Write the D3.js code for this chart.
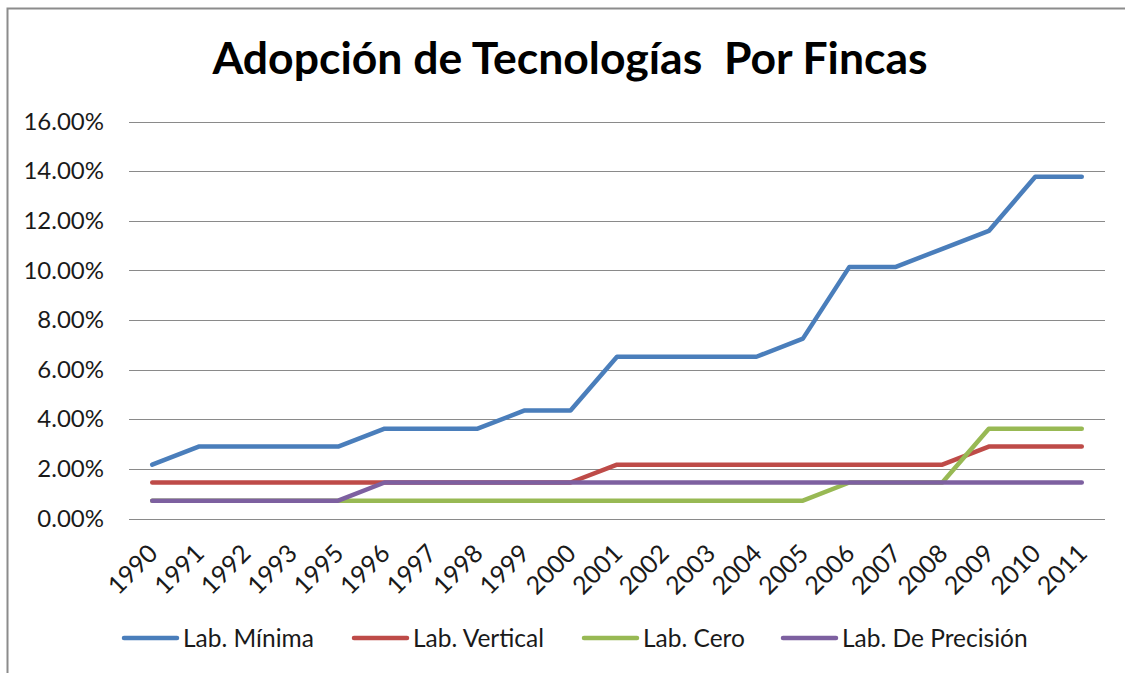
<html>
    <head>
        <meta charset="utf-8">
        <style>
            body { margin: 0; background: #fff; }
            svg { display: block; font-family: Lato, 'Open Sans', sans-serif; }
        </style>
    </head>
    <body>
        <svg width="1125" height="673"></svg>
        <script src="https://cdn.jsdelivr.net/npm/d3@7/dist/d3.min.js"></script>
        <script>
            const years = ['1990', '1991', '1992', '1993', '1995', '1996', '1997', '1998', '1999', '2000',
                           '2001', '2002', '2003', '2004', '2005', '2006', '2007', '2008', '2009', '2010', '2011'];
            const labMinima = [2.17, 2.90, 2.90, 2.90, 2.90, 3.62, 3.62, 3.62, 4.35, 4.35,
                               6.52, 6.52, 6.52, 6.52, 7.25, 10.14, 10.14, 10.87, 11.59, 13.77, 13.77];
            const labVertical = [1.45, 1.45, 1.45, 1.45, 1.45, 1.45, 1.45, 1.45, 1.45, 1.45,
                                 2.17, 2.17, 2.17, 2.17, 2.17, 2.17, 2.17, 2.17, 2.90, 2.90, 2.90];
            const labCero = [0.72, 0.72, 0.72, 0.72, 0.72, 0.72, 0.72, 0.72, 0.72, 0.72,
                             0.72, 0.72, 0.72, 0.72, 0.72, 1.45, 1.45, 1.45, 3.62, 3.62, 3.62];
            const labPrecision = [0.72, 0.72, 0.72, 0.72, 0.72, 1.45, 1.45, 1.45, 1.45, 1.45,
                                  1.45, 1.45, 1.45, 1.45, 1.45, 1.45, 1.45, 1.45, 1.45, 1.45, 1.45];
            const seriesNames = ['Lab. Mínima', 'Lab. Vertical', 'Lab. Cero', 'Lab. De Precisión'];
            const seriesColors = ['#4a7ebb', '#be4b48', '#98b954', '#7d60a0'];
            const yTicks = [0, 2, 4, 6, 8, 10, 12, 14, 16];

            const series = [labMinima, labVertical, labCero, labPrecision];

            const svg = d3.select('svg');

            // outer frame (runs off the right and bottom edges)
            svg.append('rect')
                .attr('x', 7.5).attr('y', 8.5)
                .attr('width', 1140).attr('height', 700)
                .attr('fill', 'none')
                .attr('stroke', '#8c8c8c')
                .attr('stroke-width', 2);

            svg.append('text')
                .attr('x', 570).attr('y', 74)
                .attr('text-anchor', 'middle')
                .attr('font-size', 44.5)
                .attr('font-weight', 'bold')
                .attr('fill', '#000')
                .style('white-space', 'pre')
                .text('Adopción de Tecnologías  Por Fincas');

            const x = d3.scaleBand().domain(years).range([129, 1105]);
            const y = d3.scaleLinear().domain([0, 16]).range([518.5, 121.5]);

            // gridlines
            svg.append('g')
                .selectAll('line')
                .data(yTicks)
                .enter().append('line')
                .attr('x1', 129).attr('x2', 1105)
                .attr('y1', d => Math.round(y(d)) + 0.5)
                .attr('y2', d => Math.round(y(d)) + 0.5)
                .attr('stroke', '#8a8a8a')
                .attr('stroke-width', 1);

            const yAxis = svg.append('g')
                .attr('transform', 'translate(104,0)')
                .call(d3.axisLeft(y).tickValues(yTicks).tickSize(0).tickPadding(0)
                    .tickFormat(d => d3.format('.2f')(d) + '%'));
            yAxis.select('.domain').remove();
            yAxis.selectAll('text')
                .attr('font-family', 'Lato, sans-serif')
                .attr('font-size', 24)
                .attr('fill', '#1a1a1a');

            const xAxis = svg.append('g')
                .attr('transform', 'translate(0,518)')
                .call(d3.axisBottom(x).tickSize(0).tickPadding(0));
            xAxis.select('.domain').remove();
            xAxis.selectAll('text')
                .attr('font-family', 'Lato, sans-serif')
                .attr('font-size', 25)
                .attr('fill', '#1a1a1a')
                .attr('text-anchor', 'end')
                .attr('dy', null)
                .attr('y', 0)
                .attr('transform', 'translate(7,37) rotate(-45)');

            const line = d3.line()
                .x((d, i) => x(years[i]) + x.bandwidth() / 2)
                .y(d => y(d));

            svg.append('g')
                .selectAll('path')
                .data(series)
                .enter().append('path')
                .attr('d', d => line(d))
                .attr('fill', 'none')
                .attr('stroke', (d, i) => seriesColors[i])
                .attr('stroke-width', 4.5)
                .attr('stroke-linejoin', 'round')
                .attr('stroke-linecap', 'round');

            // legend
            const legendX = [124, 354, 584, 783];
            const legend = svg.append('g')
                .selectAll('g')
                .data(seriesNames)
                .enter().append('g')
                .attr('transform', (d, i) => `translate(${legendX[i]},638)`);

            legend.append('line')
                .attr('x1', 0).attr('x2', 53)
                .attr('stroke', (d, i) => seriesColors[i])
                .attr('stroke-width', 4.5)
                .attr('stroke-linecap', 'round');

            legend.append('text')
                .attr('x', 59)
                .attr('dy', '0.35em')
                .attr('font-size', 24.5)
                .attr('fill', '#1a1a1a')
                .text(d => d);
        </script>
    </body>
</html>
